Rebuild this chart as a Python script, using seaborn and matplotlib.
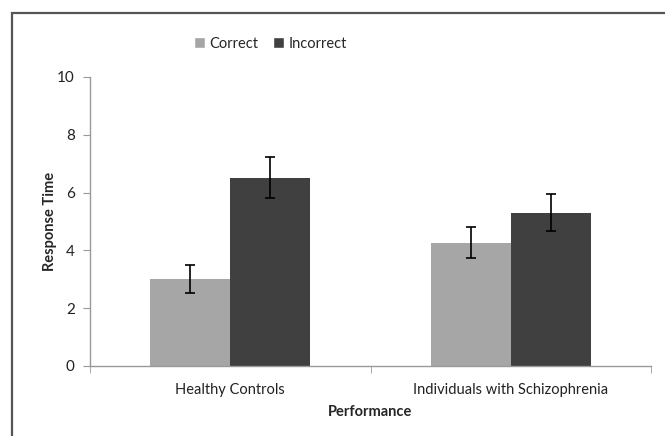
import matplotlib
matplotlib.use("Agg")
import matplotlib.pyplot as plt
from matplotlib.patches import Rectangle, Patch
import seaborn as sns
import pandas as pd

groups = ["Healthy Controls", "Individuals with Schizophrenia"]
conditions = ["Correct", "Incorrect"]
correct_rt = [3.0, 4.27]
incorrect_rt = [6.52, 5.31]
correct_err = [0.48, 0.55]
incorrect_err = [0.70, 0.63]

df = pd.DataFrame({
    "Performance": groups * 2,
    "Condition": ["Correct"] * 2 + ["Incorrect"] * 2,
    "Response Time": correct_rt + incorrect_rt,
    "err": correct_err + incorrect_err,
})

sns.set_style("white")
plt.rcParams["font.family"] = ["Lato", "DejaVu Sans"]

fig = plt.figure(figsize=(6.65, 4.36), dpi=100)
ax = fig.add_axes([0.1353, 0.1606, 0.8437, 0.6628])

palette = {"Correct": "#a6a6a6", "Incorrect": "#404040"}
sns.barplot(data=df, x="Performance", y="Response Time", hue="Condition",
            hue_order=conditions, palette=palette, errorbar=None,
            width=0.57, saturation=1, linewidth=0, ax=ax, legend=False)

# error bars at bar centres (patches come hue by hue)
for i, bar in enumerate(ax.patches):
    cond = conditions[i // 2]
    grp = groups[i % 2]
    row = df[(df["Condition"] == cond) & (df["Performance"] == grp)].iloc[0]
    cx = bar.get_x() + bar.get_width() / 2
    ax.errorbar(cx, row["Response Time"], yerr=row["err"], color="black",
                capsize=3.5, elinewidth=1.2, capthick=1.2, fmt="none")

ax.set_xlim(-0.5, 1.5)
ax.set_ylim(0, 10)
ax.set_yticks([0, 2, 4, 6, 8, 10])
ax.set_xticks([-0.5, 0.5, 1.5], minor=True)
ax.tick_params(axis="x", which="major", length=0, pad=12, labelsize=10.5, labelcolor="#222222")
ax.tick_params(axis="x", which="minor", length=5, color="#999999", direction="out", bottom=True)
ax.tick_params(axis="y", length=5, color="#999999", direction="out", left=True,
               labelsize=11, labelcolor="#222222", pad=6)

sns.despine(ax=ax, top=True, right=True)
for s in ["left", "bottom"]:
    ax.spines[s].set_color("#999999")
    ax.spines[s].set_linewidth(1)

ax.set_xlabel("Performance", fontweight="bold", fontsize=10.5, labelpad=6)
ax.set_ylabel("Response Time", fontweight="bold", fontsize=10.5, labelpad=0)

# legend on top
handles = [Patch(facecolor=palette[c], label=c) for c in conditions]
fig.legend(handles=handles, loc="center", bbox_to_anchor=(0.407, 0.9), ncol=2,
           frameon=False, fontsize=10.5, handlelength=0.75, handleheight=0.75,
           handletextpad=0.3, columnspacing=1.0)

# outer chart frame
fig.patches.append(Rectangle((0.018, -0.1), 1.2, 1.07, transform=fig.transFigure,
                             fill=False, edgecolor="#555555", linewidth=1.6))

fig.savefig("out.png", dpi=100)
